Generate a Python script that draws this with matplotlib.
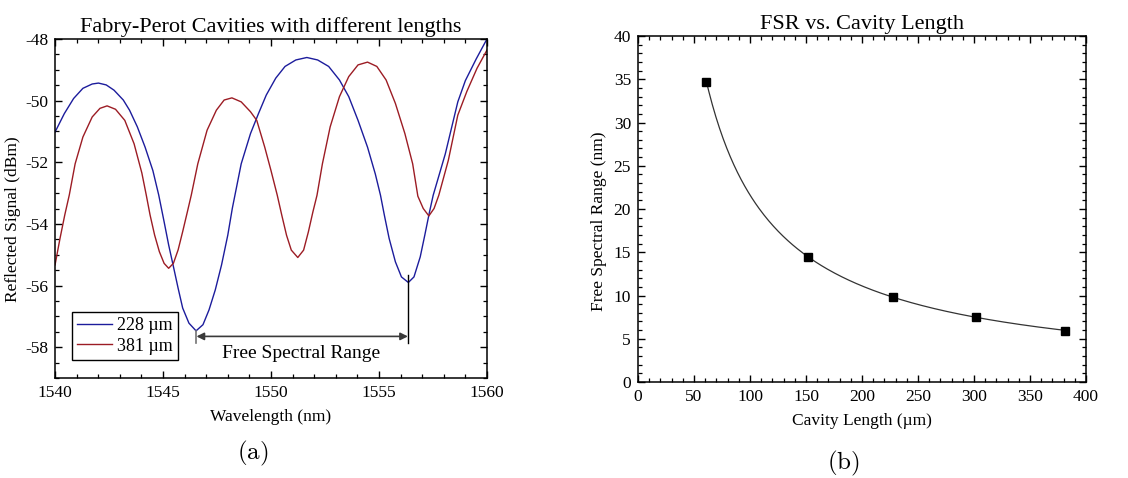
import numpy as np
import matplotlib
matplotlib.use("Agg")
import matplotlib.pyplot as plt
from matplotlib.ticker import MultipleLocator

# ---------------- data ----------------
wl_228 = [1540.0, 1540.43, 1540.86, 1541.29, 1541.72, 1542.01, 1542.37, 1542.73, 1543.16,
          1543.45, 1543.81, 1544.17, 1544.53, 1544.8, 1545.05, 1545.26, 1545.48, 1545.7,
          1545.91, 1546.2, 1546.53, 1546.85, 1547.13, 1547.42, 1547.71, 1548.0, 1548.21,
          1548.62, 1549.05, 1549.42, 1549.78, 1550.22, 1550.65, 1551.15, 1551.66, 1552.16,
          1552.67, 1553.17, 1553.6, 1554.03, 1554.47, 1554.83, 1555.07, 1555.25, 1555.47,
          1555.76, 1556.04, 1556.36, 1556.62, 1556.91, 1557.12, 1557.34, 1557.51, 1558.07,
          1558.65, 1559.0, 1559.5, 1560.0]
sig_228 = [-51.02, -50.42, -49.93, -49.6, -49.46, -49.43, -49.49, -49.66, -49.98,
           -50.31, -50.85, -51.51, -52.27, -53.06, -53.93, -54.68, -55.38, -56.09,
           -56.73, -57.22, -57.47, -57.27, -56.79, -56.14, -55.33, -54.36, -53.49,
           -52.05, -51.07, -50.42, -49.82, -49.27, -48.89, -48.68, -48.6, -48.68,
           -48.89, -49.33, -49.87, -50.64, -51.51, -52.38, -53.07, -53.72, -54.47,
           -55.23, -55.72, -55.9, -55.72, -55.07, -54.37, -53.61, -53.07, -51.73,
           -50.04, -49.35, -48.65, -48.0]

wl_381 = [1540.0, 1540.23, 1540.45, 1540.66, 1540.93, 1541.29, 1541.72, 1542.08, 1542.41,
          1542.8, 1543.23, 1543.66, 1544.02, 1544.22, 1544.4, 1544.61, 1544.83, 1545.05,
          1545.26, 1545.48, 1545.7, 1545.91, 1546.13, 1546.31, 1546.61, 1547.04, 1547.47,
          1547.83, 1548.19, 1548.62, 1549.05, 1549.34, 1549.71, 1550.0, 1550.29, 1550.5,
          1550.72, 1550.94, 1551.24, 1551.51, 1551.73, 1551.94, 1552.13, 1552.38, 1552.74,
          1553.17, 1553.6, 1554.03, 1554.47, 1554.9, 1555.33, 1555.76, 1556.2, 1556.56,
          1556.8, 1557.05, 1557.31, 1557.55, 1557.77, 1558.21, 1558.65, 1559.07, 1559.54,
          1560.0]
sig_381 = [-55.33, -54.47, -53.71, -53.06, -52.05, -51.18, -50.53, -50.25, -50.17,
           -50.28, -50.64, -51.4, -52.35, -53.05, -53.71, -54.36, -54.9, -55.28,
           -55.44, -55.28, -54.84, -54.25, -53.6, -53.06, -52.05, -50.96, -50.31,
           -49.98, -49.91, -50.04, -50.36, -50.64, -51.51, -52.27, -53.07, -53.72,
           -54.37, -54.85, -55.09, -54.85, -54.26, -53.61, -53.07, -52.05, -50.85,
           -49.87, -49.22, -48.84, -48.75, -48.89, -49.33, -50.09, -51.07, -52.05,
           -53.1, -53.5, -53.74, -53.5, -53.07, -51.94, -50.47, -49.7, -48.95,
           -48.36]

legend_labels = ["228 \u00b5m", "381 \u00b5m"]

cav_len = [61, 152, 228, 302, 381]
fsr = [34.7, 14.5, 9.8, 7.5, 5.95]

# FSR measured between the two blue minima
fsr_start, fsr_end = 1546.53, 1556.36

# ---------------- style ----------------
serif = ["Liberation Serif", "DejaVu Serif"]
plt.rcParams["font.family"] = serif
plt.rcParams["mathtext.fontset"] = "cm"
plt.rcParams["axes.unicode_minus"] = False
plt.rcParams["axes.linewidth"] = 1.1

blue = "#1c1c9c"
red = "#9c1c24"

fig = plt.figure(figsize=(11.28, 4.78), dpi=100)

def style_axes(ax):
    ax.tick_params(which="both", direction="in", top=True, right=True,
                   labelsize=12.5, colors="black", pad=5)
    ax.tick_params(which="major", length=5, width=1)
    ax.tick_params(which="minor", length=3, width=0.9)

# ---------------- (a) ----------------
ax1 = fig.add_axes([0.0488, 0.2092, 0.3829, 0.7092])
ax1.plot(wl_228, sig_228, color=blue, lw=1.0, label=legend_labels[0])
ax1.plot(wl_381, sig_381, color=red, lw=1.0, label=legend_labels[1])
ax1.set_xlim(1540, 1560)
ax1.set_ylim(-59, -48)
ax1.xaxis.set_major_locator(MultipleLocator(5))
ax1.xaxis.set_minor_locator(MultipleLocator(1))
ax1.yaxis.set_major_locator(MultipleLocator(2))
ax1.yaxis.set_minor_locator(MultipleLocator(0.5))
style_axes(ax1)
ax1.set_xticks([1540, 1545, 1550, 1555, 1560])
ax1.set_yticks([-58, -56, -54, -52, -50, -48])
ax1.set_xlabel("Wavelength (nm)", fontsize=12.5, labelpad=6)
ax1.set_ylabel("Reflected Signal (dBm)", fontsize=12.5, labelpad=3)
ax1.yaxis.label.set_y(0.469)
ax1.set_title("Fabry-Perot Cavities with different lengths", fontsize=16, pad=5)

leg = ax1.legend(loc="lower left", bbox_to_anchor=(0.039, 0.053), fontsize=13,
                 frameon=True, fancybox=False, framealpha=1, edgecolor="black",
                 handlelength=1.9, handletextpad=0.3, borderpad=0.3,
                 labelspacing=0.2, borderaxespad=0)
leg.get_frame().set_linewidth(1.0)

# FSR annotation
ax1.plot([fsr_start, fsr_start], [-57.47, -57.85], color="0.45", lw=1.2)
ax1.plot([fsr_end, fsr_end], [-55.65, -57.88], color="black", lw=1.0)
ax1.annotate("", xy=(fsr_end - 0.02, -57.65), xytext=(fsr_start + 0.02, -57.65),
             arrowprops=dict(arrowstyle="<|-|>", color="#3a3a3a", lw=1.2,
                             mutation_scale=11, shrinkA=0, shrinkB=0))
ax1.text((fsr_start + fsr_end) / 2 - 0.05, -58.2, "Free Spectral Range",
         fontsize=14, ha="center", va="center")

fig.text(0.2243, 0.052, r"$\mathrm{(a)}$", fontsize=18, ha="center", va="center")

# ---------------- (b) ----------------
ax2 = fig.add_axes([0.5656, 0.2008, 0.3972, 0.7238])
logc = np.polyfit(np.log(cav_len), np.log(fsr), 1)
lfit = np.linspace(min(cav_len), max(cav_len), 300)
ax2.plot(lfit, np.exp(np.polyval(logc, np.log(lfit))), color="#333333", lw=0.9)
ax2.plot(cav_len, fsr, "s", color="black", ms=5.5)
ax2.set_xlim(0, 400)
ax2.set_ylim(0, 40)
ax2.xaxis.set_major_locator(MultipleLocator(50))
ax2.xaxis.set_minor_locator(MultipleLocator(10))
ax2.yaxis.set_major_locator(MultipleLocator(5))
ax2.yaxis.set_minor_locator(MultipleLocator(1))
style_axes(ax2)
ax2.set_xlabel("Cavity Length (\u00b5m)", fontsize=12.5, labelpad=6)
ax2.set_ylabel("Free Spectral Range (nm)", fontsize=12.5, labelpad=5)
ax2.yaxis.label.set_y(0.465)
ax2.set_title("FSR vs. Cavity Length", fontsize=16, pad=5)

fig.text(0.7473, 0.031, r"$\mathrm{(b)}$", fontsize=18, ha="center", va="center")

fig.savefig("out.png", dpi=100)
